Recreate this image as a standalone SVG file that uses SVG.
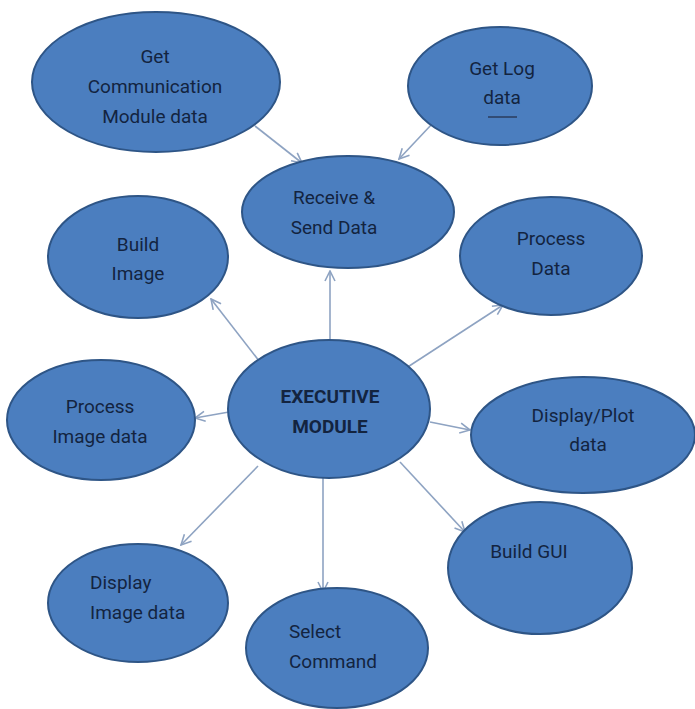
<svg xmlns="http://www.w3.org/2000/svg" width="695" height="709" viewBox="0 0 695 709">
<defs>
<style>
.n{fill:#4b7ebf;stroke:#2e5586;stroke-width:2}
.t{font-family:Roboto,"Liberation Sans",sans-serif;font-size:19px;font-weight:400;fill:#13243f;text-anchor:middle}
.b{font-weight:700}
.s{text-anchor:start}
.c line{stroke:#8ea3c2;stroke-width:1.6;marker-end:url(#a)}
</style>
<marker id="a" viewBox="0 0 12 12" refX="11" refY="6" markerWidth="12" markerHeight="12" markerUnits="userSpaceOnUse" orient="auto">
<path d="M1,1 L11,6 L1,11" fill="none" stroke="#8ea3c2" stroke-width="1.6"/>
</marker>
</defs>
<rect width="695" height="709" fill="#fff"/>
<g class="c">
<line x1="255" y1="126" x2="302" y2="163"/>
<line x1="432" y1="124" x2="399" y2="159"/>
<line x1="330" y1="340" x2="330" y2="271"/>
<line x1="263" y1="366" x2="211" y2="299"/>
<line x1="400" y1="372" x2="503" y2="305"/>
<line x1="229" y1="412" x2="195" y2="418"/>
<line x1="430" y1="422" x2="470" y2="430"/>
<line x1="258" y1="466" x2="181" y2="545"/>
<line x1="323" y1="478" x2="323" y2="592"/>
<line x1="400" y1="462" x2="465" y2="532"/>
</g>
<g id="getcomm"><ellipse class="n" cx="156" cy="82" rx="124" ry="70"/><text class="t" x="155" y="63">Get</text><text class="t" x="155" y="93">Communication</text><text class="t" x="155" y="123">Module data</text></g>
<g id="getlog"><ellipse class="n" cx="500" cy="86" rx="92" ry="59"/><text class="t" x="502" y="75">Get Log</text><text class="t" x="502" y="104">data</text><line x1="488" y1="117" x2="517" y2="117" stroke="#2a3d5c" stroke-width="1.5"/></g>
<g id="receive"><ellipse class="n" cx="348" cy="212" rx="106" ry="56"/><text class="t" x="334" y="204">Receive &amp;</text><text class="t" x="334" y="234">Send Data</text></g>
<g id="buildimage"><ellipse class="n" cx="138" cy="257" rx="90" ry="61"/><text class="t" x="138" y="251">Build</text><text class="t" x="138" y="280">Image</text></g>
<g id="processdata"><ellipse class="n" cx="551" cy="256" rx="91" ry="59"/><text class="t" x="551" y="245">Process</text><text class="t" x="551" y="275">Data</text></g>
<g id="executive"><ellipse class="n" cx="329" cy="409" rx="101" ry="69"/><text class="t b" x="330" y="403">EXECUTIVE</text><text class="t b" x="330" y="433">MODULE</text></g>
<g id="processimage"><ellipse class="n" cx="101" cy="420" rx="94" ry="60"/><text class="t" x="100" y="413">Process</text><text class="t" x="100" y="443">Image data</text></g>
<g id="displayplot"><ellipse class="n" cx="583" cy="435" rx="112" ry="58"/><text class="t" x="583" y="422">Display/Plot</text><text class="t" x="588" y="451">data</text></g>
<g id="buildgui"><ellipse class="n" cx="540" cy="568" rx="92" ry="66"/><text class="t" x="529" y="558">Build GUI</text></g>
<g id="displayimage"><ellipse class="n" cx="138" cy="603" rx="90" ry="59"/><text class="t s" x="90" y="589">Display</text><text class="t s" x="90" y="619">Image data</text></g>
<g id="select"><ellipse class="n" cx="337" cy="648" rx="91" ry="60"/><text class="t s" x="289" y="638">Select</text><text class="t s" x="289" y="668">Command</text></g>
</svg>
